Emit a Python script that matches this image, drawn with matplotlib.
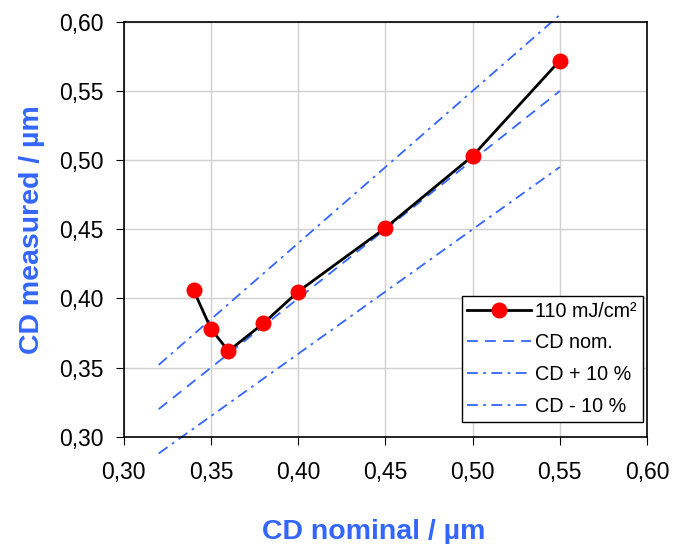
import matplotlib
matplotlib.use('Agg')
import matplotlib.pyplot as plt
from matplotlib.ticker import FuncFormatter, MultipleLocator

plt.rcParams['font.family'] = ['Liberation Sans', 'DejaVu Sans']

# measured data
cd_nominal = [0.34, 0.35, 0.36, 0.38, 0.40, 0.45, 0.50, 0.55]
cd_measured = [0.406, 0.378, 0.362, 0.382, 0.405, 0.451, 0.503, 0.572]

# reference lines
ref_x = [0.32, 0.55]
ref_nom = [0.32, 0.55]
ref_plus = [0.352, 0.605]
ref_minus = [0.288, 0.495]

blue = '#3366FF'

fig = plt.figure(figsize=(6.84, 5.44), dpi=100)
ax = fig.add_axes([0.181, 0.197, 0.765, 0.763])

ax.plot(cd_nominal, cd_measured, color='black', lw=2, marker='o', ms=10.5,
        mfc='red', mec='red', label='110 mJ/cm²', zorder=5)
ax.plot(ref_x, ref_nom, color=blue, lw=1.3, dashes=(6, 4), label='CD nom.', clip_on=False)
ax.plot(ref_x, ref_plus, color=blue, lw=1.3, dashes=(6, 3, 1.5, 3), label='CD + 10 %', clip_on=False)
ax.plot(ref_x, ref_minus, color=blue, lw=1.3, dashes=(6, 3, 1.5, 3), label='CD - 10 %', clip_on=False)

ax.set_xlim(0.30, 0.60)
ax.set_ylim(0.30, 0.60)
ax.xaxis.set_major_locator(MultipleLocator(0.05))
ax.yaxis.set_major_locator(MultipleLocator(0.05))
fmt = FuncFormatter(lambda v, p: f'{v:.2f}'.replace('.', ','))
ax.xaxis.set_major_formatter(fmt)
ax.yaxis.set_major_formatter(fmt)
ax.grid(True, color='#d0d0d0', lw=1)
ax.set_axisbelow(True)
ax.tick_params(direction='out', length=5.5, labelsize=16.5)
ax.tick_params(axis='x', pad=12)
ax.tick_params(axis='y', pad=9)
for s in ax.spines.values():
    s.set_linewidth(1.2)

ax.set_xlabel('CD nominal / µm', color=blue, fontsize=20.5, fontweight='bold', labelpad=25)
ax.xaxis.label.set_x(0.478)
ax.set_ylabel('CD measured / µm', color=blue, fontsize=20.5, fontweight='bold', labelpad=10)

leg = ax.legend(loc='lower right', fontsize=14.2, fancybox=False, edgecolor='black',
                framealpha=1, handlelength=3.2, handletextpad=0.25, borderpad=0.3,
                labelspacing=0.65, borderaxespad=0, bbox_to_anchor=(0.992, 0.036))
leg.get_frame().set_linewidth(1)

fig.savefig('out.png', dpi=100)
